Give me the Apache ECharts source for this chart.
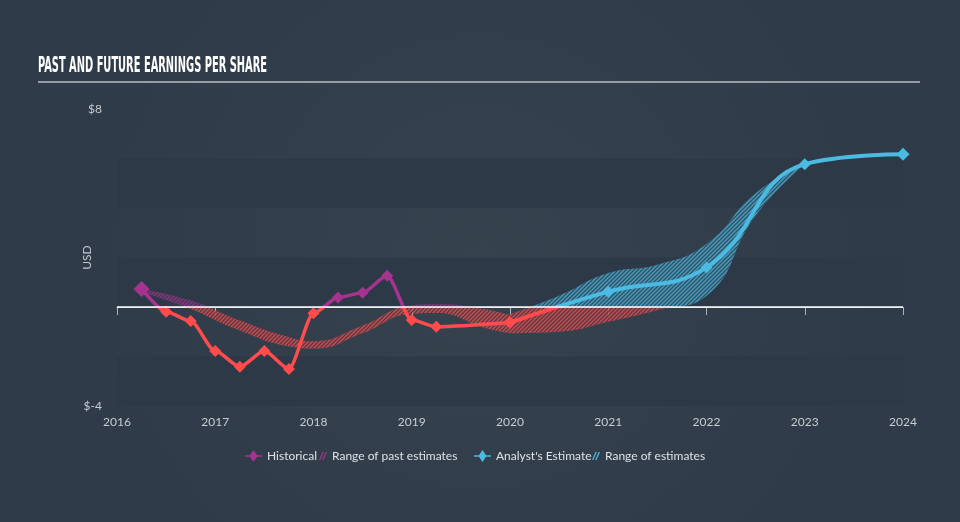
<!DOCTYPE html>
<html><head><meta charset="utf-8">
<script src="https://cdn.jsdelivr.net/npm/echarts@6/dist/echarts.min.js"></script>
<style>html,body{margin:0;padding:0;background:#333f4d;}#c{width:960px;height:522px;}</style>
</head><body><div id="c"></div>
<script>
// ---- data ----
// quarterly category grid (start of each quarter)
const quarters = [
  '2016-01','2016-04','2016-07','2016-10','2017-01','2017-04','2017-07','2017-10',
  '2018-01','2018-04','2018-07','2018-10','2019-01','2019-04','2019-07','2019-10',
  '2020-01','2020-04','2020-07','2020-10','2021-01','2021-04','2021-07','2021-10',
  '2022-01','2022-04','2022-07','2022-10','2023-01','2023-04','2023-07','2023-10','2024-01'
];
const yTickLabels = { '8': '$8', '-4': '$-4' };

const histDates = ['2016-04','2016-07','2016-10','2017-01','2017-04','2017-07','2017-10','2018-01','2018-04','2018-07','2018-10','2019-01','2019-04','2020-01'];
const histEPS   = [0.73, -0.19, -0.57, -1.78, -2.41, -1.78, -2.5, -0.25, 0.38, 0.58, 1.26, -0.53, -0.8, -0.63];

const estDates = ['2020-01','2021-01','2022-01','2023-01','2024-01'];
const estEPS   = [-0.63, 0.62, 1.6, 5.77, 6.17];

const pastDates = ['2016-04','2016-10','2017-04','2017-10','2018-01','2018-07','2019-01','2019-04','2019-10','2020-01'];
const pastLow   = [0.62, -0.08, -0.95, -1.59, -1.68, -1.05, -0.27, -0.24, -0.85, -1.06];
const pastHigh  = [0.72, 0.26, -0.55, -1.22, -1.38, -0.75, 0.07, 0.12, -0.1, -0.33];

const futDates = ['2020-01','2020-07','2021-01','2021-07','2022-01','2022-07','2023-01'];
const futLow   = [-1.06, -1.0, -0.6, -0.12, 0.45, 3.7, 5.77];
const futHigh  = [-0.3, 0.45, 1.37, 1.71, 2.55, 4.6, 5.77];

// ---- styles ----
const PURPLE = '#a6338f', RED = '#ff4b4b', BLUE = '#4bbbe3';

function pairs(xs, ys) { return xs.map((x, i) => [x, ys[i]]); }
function diffPairs(xs, lo, hi) { return xs.map((x, i) => [x, +(hi[i] - lo[i]).toFixed(3)]); }

function hatchCanvas(color) {
  const c = document.createElement('canvas'); c.width = 4; c.height = 4;
  const g = c.getContext('2d'); g.strokeStyle = color; g.lineWidth = 1.3;
  g.beginPath();
  g.moveTo(0, 4); g.lineTo(4, 0);
  g.moveTo(-1, 1); g.lineTo(1, -1);
  g.moveTo(3, 5); g.lineTo(5, 3);
  g.stroke();
  return c;
}
const hatchPattern = { image: hatchCanvas('rgba(48,60,74,0.8)'), repeat: 'repeat' };

function bandSeries(name, stack, xs, lo, hi, area) {
  const common = {
    type: 'line', stack: stack, stackStrategy: 'all',
    smooth: 0.5, showSymbol: false, symbol: 'none',
    lineStyle: { opacity: 0 }, silent: true
  };
  const base = Object.assign({ name: stack + '_base', data: pairs(xs, lo) }, common);
  const top = Object.assign({ name: name, data: diffPairs(xs, lo, hi), areaStyle: area }, common);
  return [base, top];
}

const titleText = 'PAST AND FUTURE EARNINGS PER SHARE';
const titleFont = 'bold 21px "DejaVu Sans Condensed"';
const mctx = document.createElement('canvas').getContext('2d');
mctx.font = titleFont;
const titleScale = 229 / mctx.measureText(titleText).width;

const series = [];
series.push(...bandSeries('Range of past estimates', 'past', pastDates, pastLow, pastHigh, { opacity: 0.75 }));
series.push(...bandSeries('pastHatch', 'pastH', pastDates, pastLow, pastHigh, { color: hatchPattern, opacity: 1 }));
series.push(...bandSeries('Range of estimates', 'fut', futDates, futLow, futHigh, { opacity: 0.75 }));
series.push(...bandSeries('futHatch', 'futH', futDates, futLow, futHigh, { color: hatchPattern, opacity: 1 }));
// zero line
series[0].markLine = {
  silent: true, symbol: 'none', label: { show: false },
  data: [{ yAxis: 0 }], lineStyle: { color: '#ffffff', width: 1.5, type: 'solid' }
};
series.push({
  name: 'Historical', type: 'line', data: pairs(histDates, histEPS),
  smooth: 0.25, smoothMonotone: 'x', symbol: 'diamond', showAllSymbol: true,
  symbolSize: (v, p) => p.dataIndex === 0 ? 16 : 12,
  lineStyle: { width: 3.5 }, itemStyle: { color: PURPLE }, z: 4
});
series.push({
  name: "Analyst's Estimate", type: 'line', data: pairs(estDates, estEPS),
  smooth: 0.45, symbol: 'diamond', showAllSymbol: true,
  symbolSize: (v, p) => p.dataIndex === estDates.length - 1 ? 13 : 12,
  lineStyle: { width: 4 }, itemStyle: { color: BLUE }, z: 4
});

const legendText = { color: '#dde1e5', fontFamily: 'Lato', fontSize: 12 };
const diamondIcon = 'path://M0,5.2H5L8.5,0L12,5.2H17V6.8H12L8.5,12L5,6.8H0Z';
const hatchIcon = 'path://M0,9L4,0H5.5L1.5,9Z M3.5,9L7.5,0H9L5,9Z';
function legendOne(name, icon, color, left, w, h) {
  return {
    data: [{ name: name, icon: icon, itemStyle: { color: color, opacity: 1 } }],
    left: left, top: 450, itemWidth: w, itemHeight: h, itemGap: 0, padding: 0,
    selectedMode: false, textStyle: legendText
  };
}
const isYearStart = (idx, val) => String(val).slice(5) === '01';

const option = {
  animation: false,
  backgroundColor: {
    type: 'radial', x: 0.5, y: 0.5, r: 0.75,
    colorStops: [{ offset: 0, color: '#36434f' }, { offset: 1, color: '#2f3b48' }]
  },
  graphic: [
    { type: 'text', x: 38, y: 56, scaleX: titleScale,
      style: { text: titleText, font: titleFont, fill: '#ffffff', verticalAlign: 'top' } },
    { type: 'line', shape: { x1: 38, y1: 82, x2: 920, y2: 82 },
      style: { stroke: '#b7bec6', lineWidth: 1.5 } }
  ],
  grid: { left: 117, right: 57, top: 109, bottom: 116 },
  xAxis: {
    type: 'category', data: quarters, boundaryGap: false,
    axisLine: { lineStyle: { color: '#aab2ba', width: 1 } },
    axisTick: { show: true, length: 8, interval: isYearStart, lineStyle: { color: '#aab2ba' } },
    axisLabel: { color: '#c6ccd2', fontFamily: 'Lato', fontSize: 12, margin: 10,
      interval: isYearStart, formatter: v => v.slice(0, 4) },
    splitLine: { show: false }
  },
  yAxis: {
    type: 'value', min: -4, max: 8, interval: 2,
    name: 'USD', nameLocation: 'middle', nameGap: 24, nameMoveOverlap: false,
    nameTextStyle: { color: '#c2c8ce', fontFamily: 'Lato', fontSize: 12 },
    axisLine: { show: false }, axisTick: { show: false },
    axisLabel: { color: '#c6ccd2', fontFamily: 'Lato', fontSize: 12, margin: 15,
      formatter: v => yTickLabels[String(v)] || '' },
    splitLine: { show: false },
    splitArea: { show: true, areaStyle: { color: ['#2d3947', 'rgba(0,0,0,0)'] } }
  },
  visualMap: [
    { show: false, type: 'piecewise', dimension: 1, seriesIndex: [1, 8],
      pieces: [{ gt: -100, lte: 0, color: RED }, { gt: 0, lte: 100, color: PURPLE }] },
    { show: false, type: 'piecewise', dimension: 1, seriesIndex: [5, 9],
      pieces: [{ gt: -100, lte: 0, color: RED }, { gt: 0, lte: 100, color: BLUE }] }
  ],
  legend: [
    legendOne('Historical', diamondIcon, PURPLE, 245, 17, 12),
    legendOne('Range of past estimates', hatchIcon, PURPLE, 319, 8, 9),
    legendOne("Analyst's Estimate", diamondIcon, BLUE, 474, 17, 12),
    legendOne('Range of estimates', hatchIcon, BLUE, 592, 8, 9)
  ],
  series: series
};

const chart = echarts.init(document.getElementById('c'), null, { renderer: 'canvas' });
chart.setOption(option);
</script>
</body></html>
